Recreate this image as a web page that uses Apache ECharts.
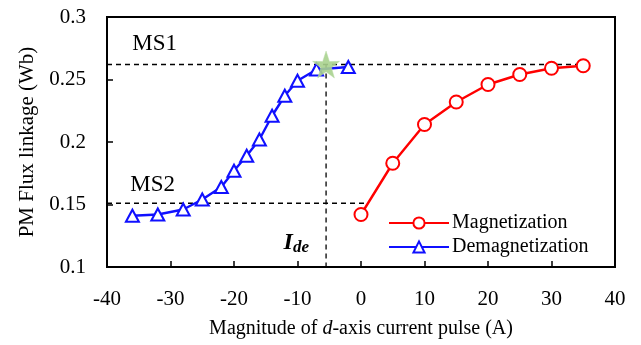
<!DOCTYPE html>
<html>
<head>
<meta charset="utf-8">
<script src="https://cdn.jsdelivr.net/npm/echarts@6/dist/echarts.min.js"></script>
<style>
  html, body { margin: 0; padding: 0; background: #fff; }
  #chart { width: 641px; height: 345px; }
</style>
</head>
<body>
<div id="chart"></div>
<script>
// Magnetization pulse sweep (A) and resulting PM flux linkage (Wb)
const magCurrent = [0, 5, 10, 15, 20, 25, 30, 35];
const magFlux = [0.142, 0.183, 0.214, 0.232, 0.246, 0.254, 0.259, 0.261];

// Demagnetization pulse sweep (A) and resulting PM flux linkage (Wb)
const demagCurrent = [-36, -32, -28, -25, -22, -20, -18, -16, -14, -12, -10, -7, -2];
const demagFlux = [0.141, 0.142, 0.146, 0.154, 0.164, 0.177, 0.189, 0.202, 0.221, 0.237, 0.249, 0.258, 0.260];

// Magnetization states and the demagnetizing current that reaches MS1
const ms1Level = 0.262;
const ms2Level = 0.151;
const ideCurrent = -5.5;
const ms2LineEnd = 0.8;

// Annotation texts and their anchor points (A, Wb)
const noteTexts = ['MS1', 'MS2', '{i|I}{s|de}'];
const notePoints = [[-32.5, 0.2782], [-32.8, 0.1655], [-10.2, 0.1195]];

const xTicks = { min: -40, max: 40, step: 10 };
const yTicks = { min: 0.1, max: 0.3, step: 0.05 };

const serif = '"Liberation Serif", "Times New Roman", serif';
const dashStyle = { color: '#000', width: 1.3, type: [5, 4] };

const zip = (xs, ys) => xs.map((x, i) => [x, ys[i]]);

const chart = echarts.init(document.getElementById('chart'), null, { renderer: 'canvas' });

chart.setOption({
  animation: false,
  backgroundColor: '#fff',
  textStyle: { fontFamily: serif },
  grid: {
    left: 107, right: 26, top: 17, bottom: 78,
    show: true, borderColor: '#000', borderWidth: 2, backgroundColor: 'transparent'
  },
  legend: {
    left: 383, top: 208,
    orient: 'vertical',
    itemWidth: 60, itemHeight: 14, itemGap: 4,
    textStyle: { fontFamily: serif, fontSize: 20, color: '#000', padding: [0, 0, 0, -2] },
    data: ['Magnetization', 'Demagnetization']
  },
  xAxis: {
    type: 'value',
    min: xTicks.min, max: xTicks.max, interval: xTicks.step,
    name: 'Magnitude of {it|d}-axis current pulse (A)',
    nameLocation: 'middle', nameGap: 52,
    nameTextStyle: {
      fontFamily: serif, fontSize: 20, color: '#000',
      rich: { it: { fontFamily: serif, fontSize: 20, fontStyle: 'italic', color: '#000' } }
    },
    axisLine: { show: true, onZero: false, lineStyle: { color: '#000', width: 2 } },
    axisTick: { show: true, inside: true, length: 6, lineStyle: { color: '#000', width: 1.5 } },
    axisLabel: { fontFamily: serif, fontSize: 21, color: '#000', margin: 22 },
    splitLine: { show: false }
  },
  yAxis: {
    type: 'value',
    min: yTicks.min, max: yTicks.max, interval: yTicks.step,
    name: 'PM Flux linkage (Wb)',
    nameLocation: 'middle', nameGap: 64,
    nameTextStyle: { fontFamily: serif, fontSize: 21, color: '#000' },
    axisLine: { show: true, onZero: false, lineStyle: { color: '#000', width: 2 } },
    axisTick: { show: true, inside: true, length: 6, lineStyle: { color: '#000', width: 1.5 } },
    axisLabel: { fontFamily: serif, fontSize: 21, color: '#000', margin: 21 },
    splitLine: { show: false }
  },
  series: [
    {
      name: 'ms1-guide', type: 'line', silent: true, symbol: 'none',
      lineStyle: dashStyle, z: 1,
      data: [[xTicks.min, ms1Level], [magCurrent[magCurrent.length - 1], ms1Level]]
    },
    {
      name: 'ms2-guide', type: 'line', silent: true, symbol: 'none',
      lineStyle: dashStyle, z: 1,
      data: [[xTicks.min, ms2Level], [ms2LineEnd, ms2Level]]
    },
    {
      name: 'ide-guide', type: 'line', silent: true, symbol: 'none',
      lineStyle: dashStyle, z: 1,
      data: [[ideCurrent, ms1Level], [ideCurrent, yTicks.min]]
    },
    {
      name: 'notes', type: 'scatter', silent: true,
      symbol: 'circle', symbolSize: 0,
      itemStyle: { color: 'rgba(0,0,0,0)', opacity: 1 },
      data: notePoints.map((p, i) => ({ value: p, note: noteTexts[i] })),
      label: {
        show: true, position: 'inside',
        formatter: (p) => p.data.note,
        fontFamily: serif, fontSize: 23, color: '#000',
        textBorderWidth: 0,
        rich: {
          i: { fontFamily: serif, fontSize: 24, fontWeight: 'bold', fontStyle: 'italic', color: '#000', textBorderWidth: 0 },
          s: { fontFamily: serif, fontSize: 17, fontWeight: 'bold', fontStyle: 'italic', color: '#000', textBorderWidth: 0, padding: [10, 0, 0, 0] }
        }
      },
      z: 2
    },
    {
      name: 'Magnetization', type: 'line',
      data: zip(magCurrent, magFlux),
      symbol: 'emptyCircle', symbolSize: 13,
      color: '#ff0000',
      lineStyle: { color: '#ff0000', width: 2.4 },
      itemStyle: { color: '#ff0000', borderWidth: 2.2 },
      z: 3
    },
    {
      name: 'Demagnetization', type: 'line',
      data: zip(demagCurrent, demagFlux),
      symbol: 'emptyTriangle', symbolSize: [13, 12],
      color: '#1010ff',
      lineStyle: { color: '#1010ff', width: 2.4 },
      itemStyle: { color: '#1010ff', borderWidth: 2.2 },
      z: 3
    },
    {
      name: 'ide-point', type: 'scatter',
      data: [[ideCurrent, ms1Level]],
      symbol: 'path://M50,0 L61.8,35.1 L97.6,34.5 L69,56 L79.4,90.5 L50,69.5 L20.6,90.5 L31,56 L2.4,34.5 L38.2,35.1 Z',
      symbolSize: 27,
      itemStyle: { color: '#a9d18e', opacity: 0.9, borderColor: '#b9dba4', borderWidth: 0.5 },
      z: 4
    }
  ]
});
</script>
</body>
</html>
